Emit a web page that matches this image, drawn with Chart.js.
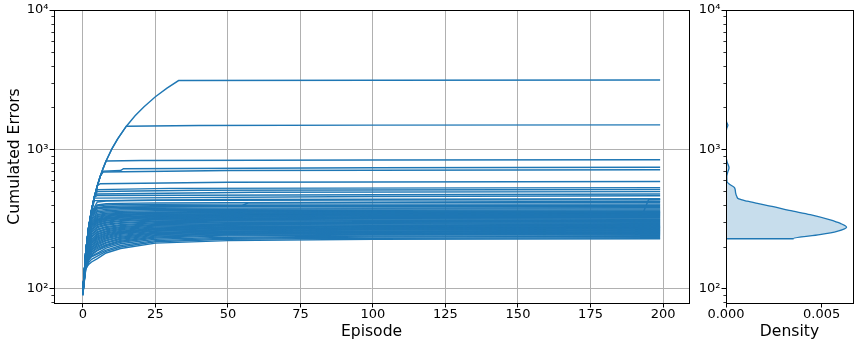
<!DOCTYPE html>
<html>
<head>
<meta charset="utf-8">
<script src="https://cdn.jsdelivr.net/npm/chart.js@4.4.0/dist/chart.umd.min.js"></script>
<style>
  body { margin: 0; background: #fff; }
  #wrap { position: relative; width: 855px; height: 341px; }
  #runsChart { position: absolute; left: 0; top: 0; }
  #densityChart { position: absolute; left: 692px; top: 0; }
</style>
</head>
<body>
<div id="wrap">
  <canvas id="runsChart" width="692" height="341"></canvas>
  <canvas id="densityChart" width="163" height="341"></canvas>
</div>
<script>
const gColor = '#1f77b4'
const gFont = 'DejaVu Sans'

const gEpisodeTicks = [0, 25, 50, 75, 100, 125, 150, 175, 200]
const gDensityTicks = [0, 0.005]
const gYMajorTicks = [100, 1000, 10000]
const gYMinorTicks = [80, 90, 200, 300, 400, 500, 600, 700, 800, 900,
  2000, 3000, 4000, 5000, 6000, 7000, 8000, 9000]
const gYLabels = { 100: '10²', 1000: '10³', 10000: '10⁴' }

// episodes where the bundle runs are sampled
const gEpisodes = [0, 1, 2, 3, 5, 8, 13, 25, 50, 100, 199]

// cumulated errors of the bundle runs at gEpisodes
const gBundleRuns = [
  [95, 140, 150, 156, 165, 181, 195, 213, 222, 227, 229],
  [92, 138, 155, 163, 172, 186, 200, 218, 227, 231, 233],
  [97, 145, 162, 170, 178, 190, 205, 222, 231, 236, 238],
  [90, 150, 166, 172, 181, 196, 211, 227, 235, 239, 241],
  [94, 142, 160, 175, 188, 201, 216, 232, 240, 243, 245],
  [99, 155, 170, 179, 190, 205, 220, 236, 243, 246, 248],
  [93, 148, 172, 183, 195, 208, 223, 239, 246, 249, 251],
  [96, 152, 168, 185, 199, 213, 227, 242, 249, 252, 254],
  [91, 160, 178, 190, 203, 216, 231, 245, 252, 255, 257],
  [95, 146, 175, 192, 207, 221, 235, 249, 255, 258, 260],
  [98, 158, 183, 197, 211, 224, 238, 252, 258, 261, 263],
  [92, 150, 180, 200, 215, 229, 242, 255, 261, 264, 266],
  [96, 165, 190, 205, 219, 233, 246, 259, 264, 267, 269],
  [94, 155, 186, 207, 224, 237, 250, 262, 267, 270, 272],
  [90, 162, 195, 212, 228, 241, 253, 265, 270, 273, 275],
  [97, 170, 198, 215, 232, 244, 256, 268, 273, 275, 277],
  [93, 158, 192, 218, 236, 248, 259, 271, 276, 278, 280],
  [95, 166, 203, 222, 240, 252, 263, 274, 279, 281, 283],
  [99, 172, 208, 228, 245, 257, 267, 278, 282, 284, 286],
  [92, 160, 200, 226, 248, 261, 271, 282, 286, 288, 290],
  [96, 175, 212, 235, 254, 266, 276, 286, 290, 292, 294],
  [94, 168, 210, 238, 258, 270, 280, 290, 294, 296, 298],
  [97, 172, 218, 245, 264, 276, 285, 294, 298, 300, 302],
  [91, 165, 215, 248, 268, 280, 289, 298, 302, 304, 306],
  [95, 176, 225, 255, 275, 286, 295, 303, 307, 309, 310],
  [98, 170, 222, 258, 280, 291, 299, 307, 311, 313, 314],
  [93, 178, 232, 265, 286, 297, 305, 312, 315, 317, 318],
  [96, 174, 230, 268, 290, 301, 309, 316, 319, 321, 322],
  [92, 179, 238, 275, 296, 307, 314, 320, 323, 325, 326],
  [97, 176, 240, 280, 301, 311, 318, 324, 327, 329, 330],
  [94, 180, 245, 285, 306, 316, 322, 328, 331, 333, 334],
  [99, 177, 248, 290, 311, 320, 327, 332, 335, 337, 338],
  [93, 179, 252, 295, 316, 325, 331, 336, 339, 341, 342],
  [95, 180, 255, 300, 321, 330, 336, 341, 343, 345, 346],
  [97, 178, 258, 305, 326, 334, 340, 345, 347, 349, 350],
  [92, 180, 262, 310, 331, 339, 344, 349, 351, 353, 354],
  [96, 179, 265, 318, 337, 344, 349, 353, 355, 357, 358],
  [94, 180, 266, 322, 342, 349, 353, 357, 359, 361, 362],
  [98, 180, 267, 330, 350, 356, 360, 364, 366, 367, 368],
  [93, 180, 268, 335, 358, 364, 368, 371, 373, 374, 375],
  [95, 180, 268, 340, 366, 372, 376, 379, 380, 381, 382],
  [97, 180, 268, 345, 375, 381, 384, 387, 388, 389, 390],
  [92, 180, 268, 350, 384, 390, 393, 395, 396, 397, 398],
  [96, 180, 268, 352, 395, 400, 403, 405, 406, 406, 407],
  [94, 180, 268, 354, 400, 408, 411, 414, 416, 417, 418],
  [95, 180, 268, 355, 420, 426, 429, 432, 433, 434, 435]
]

// the worst run, errors on every episode until it stops at episode 33
const gEnvelopeEpisodes = [0, 1, 2, 3, 4, 5, 6, 7, 8, 10, 12, 15, 18, 21, 25, 29, 33]
const gEnvelopeErrors = [93, 185, 276, 368, 460, 551, 643, 735, 827, 1010, 1193, 1469, 1744, 2019, 2386, 2752, 3119]

// runs that follow the envelope, then level off: [episode, errors] from where they leave it
const gBranchRuns = [
  [[33, 3119], [100, 3135], [199, 3150]],
  [[15, 1469], [40, 1485], [100, 1495], [199, 1500]],
  [[8, 827], [20, 834], [100, 840], [199, 845]],
  [[7, 700], [13, 706], [14, 728], [100, 740], [199, 746]],
  [[7, 690], [50, 706], [199, 715]],
  [[5, 551], [6, 568], [50, 582], [199, 589]],
  [[5, 515], [30, 526], [199, 533]],
  [[5, 500], [40, 510], [199, 516]],
  [[4, 460], [5, 480], [60, 494], [199, 499]],
  [[4, 455], [5, 468], [199, 480]],
  [[4, 448], [100, 460], [199, 466]],
  [[4, 430], [50, 438], [199, 443]],
  [[3, 360], [5, 382], [55, 397], [57, 415], [199, 425]],
  [[0, 95], [1, 170], [2, 240], [3, 285], [5, 312], [13, 330], [50, 338], [100, 342], [193, 346], [195, 437], [199, 440]]
]

// density of the final errors (right panel)
const gDensityErrors = [3150, 1650, 1560, 1490, 1420, 1300, 894, 804, 741, 694, 640, 589, 562, 531, 490,
  462, 442, 426, 409, 391, 366, 341, 314, 294, 277, 259, 245, 229, 229]
const gDensityValues = [0, 0, 0.00004, 0.0001, 0.00004, 0, 0, 0.00007, 0.00016, 0.0001, 0.00004, 0.00005, 0.0002, 0.00045, 0.0005,
  0.00056, 0.00067, 0.0011, 0.0017, 0.0024, 0.0033, 0.0044, 0.0054, 0.006, 0.0063, 0.0058, 0.0049, 0.0035, 0]

$ready(function () {
  displayRunsChart()
  displayDensityChart()
})

function $ready(fn) {
  if (document.readyState !== 'loading') fn()
  else document.addEventListener('DOMContentLoaded', fn)
}

// spines all round, like matplotlib
const framePlugin = {
  id: 'frame',
  afterDatasetsDraw(chart) {
    const { ctx, chartArea } = chart
    ctx.save()
    ctx.strokeStyle = '#000'
    ctx.lineWidth = 1
    ctx.strokeRect(chartArea.left + 0.5, chartArea.top + 0.5,
      chartArea.right - chartArea.left, chartArea.bottom - chartArea.top)
    ctx.restore()
  }
}

// short ticks for 2..9 x 10^n on the log axis
const minorTicksPlugin = {
  id: 'minorTicks',
  afterDraw(chart) {
    const { ctx, chartArea } = chart
    const yScale = chart.scales.y
    ctx.save()
    ctx.strokeStyle = '#000'
    ctx.lineWidth = 0.8
    gYMinorTicks.forEach(v => {
      const py = Math.round(yScale.getPixelForValue(v)) + 0.5
      ctx.beginPath()
      ctx.moveTo(chartArea.left - 2.6, py)
      ctx.lineTo(chartArea.left + 0.5, py)
      ctx.stroke()
    })
    ctx.restore()
  }
}

function isMajor(ctx) {
  return ctx.tick && gYMajorTicks.includes(ctx.tick.value)
}

function logYScale(showGrid) {
  return {
    type: 'logarithmic',
    min: 79.3,
    max: 10000,
    afterBuildTicks: scale => {
      scale.ticks = gYMinorTicks.concat(gYMajorTicks).sort((a, b) => a - b).map(v => ({ value: v }))
    },
    grid: {
      drawOnChartArea: showGrid,
      color: ctx => isMajor(ctx) ? '#b0b0b0' : 'rgba(0,0,0,0)',
      tickColor: ctx => isMajor(ctx) ? '#000' : 'rgba(0,0,0,0)',
      tickLength: 4.5,
      lineWidth: 1
    },
    border: { display: false },
    ticks: {
      autoSkip: false,
      color: '#000',
      padding: 1,
      font: { family: gFont, size: 13, lineHeight: 1 },
      callback: v => gYLabels[v] || ''
    }
  }
}

function displayRunsChart() {
  const datasets = []

  gBundleRuns.forEach(run => {
    datasets.push({
      data: run.map((e, i) => ({ x: gEpisodes[i], y: e })),
      borderColor: gColor,
      backgroundColor: gColor
    })
  })

  gBranchRuns.forEach(branch => {
    const start = branch[0][0]
    const points = []
    gEnvelopeEpisodes.forEach((ep, i) => {
      if (ep < start) points.push({ x: ep, y: gEnvelopeErrors[i] })
    })
    branch.forEach(p => points.push({ x: p[0], y: p[1] }))
    datasets.push({ data: points, borderColor: gColor, backgroundColor: gColor })
  })

  const yScale = logYScale(true)
  yScale.afterFit = scale => { scale.width = 54 }
  yScale.title = {
    display: true,
    text: 'Cumulated Errors',
    color: '#000',
    font: { family: gFont, size: 15.6 },
    padding: { top: 5.9, bottom: 0 }
  }

  const ctx = document.getElementById('runsChart').getContext('2d')
  new Chart(ctx, {
    type: 'line',
    data: { datasets: datasets },
    options: {
      responsive: false,
      animation: false,
      layout: { padding: { top: 10, right: 3, left: 0, bottom: 0 } },
      elements: {
        point: { radius: 0 },
        line: { borderWidth: 1.4, tension: 0, fill: false }
      },
      plugins: { legend: { display: false }, tooltip: { enabled: false } },
      scales: {
        x: {
          type: 'linear',
          min: -9.95,
          max: 208.95,
          afterBuildTicks: scale => { scale.ticks = gEpisodeTicks.map(v => ({ value: v })) },
          afterFit: scale => { scale.height = 38 },
          grid: { color: '#b0b0b0', tickColor: '#000', tickLength: 4.5, lineWidth: 1 },
          border: { display: false },
          ticks: {
            autoSkip: false,
            maxRotation: 0,
            color: '#000',
            padding: 0.5,
            font: { family: gFont, size: 13, lineHeight: 1 },
            callback: v => String(v)
          },
          title: {
            display: true,
            text: 'Episode',
            color: '#000',
            font: { family: gFont, size: 15.6 },
            padding: { top: 0, bottom: 0 }
          }
        },
        y: yScale
      }
    },
    plugins: [framePlugin, minorTicksPlugin]
  })
}

function displayDensityChart() {
  const points = gDensityErrors.map((e, i) => ({ x: gDensityValues[i], y: e }))

  const yScale = logYScale(false)
  yScale.afterFit = scale => { scale.width = 34 }

  const ctx = document.getElementById('densityChart').getContext('2d')
  new Chart(ctx, {
    type: 'line',
    data: {
      datasets: [{
        data: points,
        borderColor: gColor,
        borderWidth: 1.3,
        backgroundColor: 'rgba(31,119,180,0.25)',
        fill: 'origin',
        cubicInterpolationMode: 'monotone',
        pointRadius: 0
      }]
    },
    options: {
      responsive: false,
      animation: false,
      indexAxis: 'y',
      layout: { padding: { top: 10, right: 2, left: 0, bottom: 0 } },
      plugins: { legend: { display: false }, tooltip: { enabled: false } },
      scales: {
        x: {
          type: 'linear',
          min: 0,
          max: 0.006635,
          afterBuildTicks: scale => { scale.ticks = gDensityTicks.map(v => ({ value: v })) },
          afterFit: scale => { scale.height = 38 },
          grid: { drawOnChartArea: false, tickColor: '#000', tickLength: 4.5 },
          border: { display: false },
          ticks: {
            autoSkip: false,
            maxRotation: 0,
            color: '#000',
            padding: 0.5,
            font: { family: gFont, size: 13, lineHeight: 1 },
            callback: v => v.toFixed(3)
          },
          title: {
            display: true,
            text: 'Density',
            color: '#000',
            font: { family: gFont, size: 15.6 },
            padding: { top: 0, bottom: 0 }
          }
        },
        y: yScale
      }
    },
    plugins: [framePlugin, minorTicksPlugin]
  })
}
</script>
</body>
</html>
